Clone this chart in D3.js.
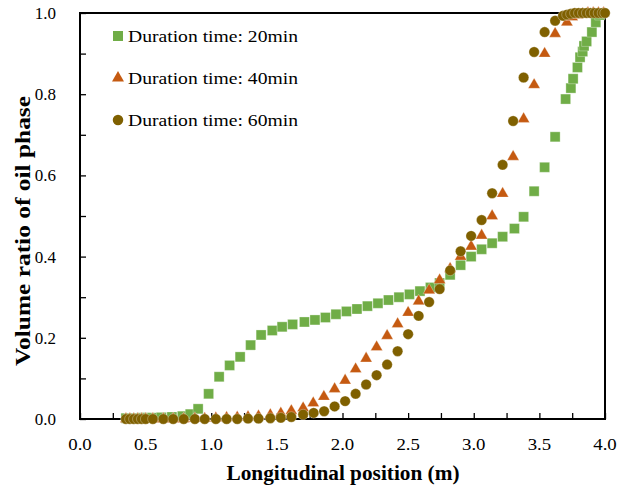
<!DOCTYPE html>
<html>
<head>
<meta charset="utf-8">
<script src="https://cdn.jsdelivr.net/npm/d3@7"></script>
<style>
  body { margin: 0; background: #fff; }
  svg text { font-family: "Liberation Serif", "Times New Roman", serif; }
</style>
</head>
<body>
<script>
// Oil phase volume ratio along the tube, three duration times

const width = 619;
const height = 485;
const margin = { top: 13, right: 14, bottom: 66, left: 80 };

// 20 min (green squares)
const x20 = [0.35, 0.38, 0.41, 0.44, 0.47, 0.50, 0.55, 0.62, 0.70, 0.78, 0.84, 0.90, 0.98, 1.06, 1.14, 1.22, 1.30, 1.38, 1.465, 1.54, 1.62, 1.71, 1.79,
  1.87, 1.95, 2.03, 2.11, 2.19, 2.27, 2.35, 2.43, 2.51, 2.59, 2.67, 2.74, 2.82, 2.90, 2.98, 3.06, 3.14, 3.22, 3.31, 3.38, 3.46, 3.54, 3.62,
  3.70, 3.74, 3.757, 3.79, 3.81, 3.83, 3.84, 3.86, 3.90, 3.93, 3.96, 3.98];
const y20 = [0.002, 0.002, 0.002, 0.002, 0.003, 0.003, 0.003, 0.004, 0.005, 0.007, 0.012, 0.025, 0.062, 0.104, 0.132, 0.153, 0.182, 0.207, 0.218, 0.227, 0.233, 0.239, 0.244,
  0.25, 0.258, 0.265, 0.271, 0.278, 0.285, 0.293, 0.30, 0.307, 0.315, 0.324, 0.335, 0.355, 0.379, 0.40, 0.418, 0.433, 0.449, 0.469, 0.498, 0.561, 0.62, 0.695,
  0.788, 0.815, 0.838, 0.866, 0.891, 0.905, 0.919, 0.93, 0.953, 0.977, 0.995, 1.0];

// 40 min (orange triangles)
const x40 = [0.35, 0.38, 0.41, 0.44, 0.47, 0.50, 0.555, 0.635, 0.71, 0.79, 0.875, 0.95, 1.035, 1.117, 1.198, 1.28, 1.36, 1.45, 1.53, 1.61,
  1.70, 1.777, 1.858, 1.94, 2.02, 2.10, 2.18, 2.26, 2.34, 2.42, 2.50, 2.58, 2.66, 2.74, 2.82, 2.90, 2.98, 3.06, 3.14, 3.22, 3.30, 3.38,
  3.46, 3.54, 3.62, 3.71, 3.75, 3.79, 3.83, 3.87, 3.91, 3.95, 3.99];
const y40 = [0, 0, 0, 0, 0, 0, 0, 0, 0, 0, 0.001, 0.001, 0.002, 0.003, 0.004, 0.005, 0.007, 0.01, 0.014, 0.02,
  0.027, 0.039, 0.055, 0.074, 0.095, 0.123, 0.149, 0.177, 0.205, 0.234, 0.262, 0.29, 0.317, 0.342, 0.37, 0.40, 0.425, 0.452, 0.50, 0.555, 0.646, 0.739,
  0.823, 0.90, 0.949, 0.977, 0.99, 0.995, 0.998, 1.0, 1.0, 1.0, 1.0];

// 60 min (brown circles)
const x60 = [0.35, 0.38, 0.41, 0.44, 0.47, 0.50, 0.555, 0.635, 0.71, 0.79, 0.875, 0.95, 1.035, 1.117, 1.198, 1.28, 1.36, 1.45, 1.53, 1.61,
  1.70, 1.78, 1.86, 1.94, 2.02, 2.10, 2.18, 2.26, 2.34, 2.42, 2.50, 2.58, 2.66, 2.74, 2.82, 2.90, 2.98, 3.06, 3.14, 3.22, 3.30,
  3.38, 3.46, 3.54, 3.62, 3.68, 3.71, 3.74, 3.77, 3.80, 3.83, 3.86, 3.89, 3.92, 3.95, 3.98, 4.0];
const y60 = [0, 0, 0, 0, 0, 0, 0, 0, 0, 0, 0, 0, 0, 0, 0, 0.001, 0.001, 0.002, 0.003, 0.005,
  0.011, 0.015, 0.019, 0.031, 0.044, 0.062, 0.085, 0.108, 0.134, 0.167, 0.209, 0.254, 0.288, 0.32, 0.366, 0.413, 0.451, 0.49, 0.556, 0.626, 0.734,
  0.841, 0.904, 0.953, 0.981, 0.993, 0.996, 0.998, 1.0, 1.0, 1.0, 1.0, 1.0, 1.0, 1.0, 1.0, 1.0];

const seriesNames = ["Duration time: 20min", "Duration time: 40min", "Duration time: 60min"];
const seriesColors = ["#70AD47", "#C55A11", "#7F6000"];
const seriesShapes = [d3.symbolSquare, d3.symbolTriangle, d3.symbolCircle];

const xTicks = [0.0, 0.5, 1.0, 1.5, 2.0, 2.5, 3.0, 3.5, 4.0];
const yTicks = [0.0, 0.2, 0.4, 0.6, 0.8, 1.0];

const series = [
  { name: seriesNames[0], pts: d3.zip(x20, y20) },
  { name: seriesNames[1], pts: d3.zip(x40, y40) },
  { name: seriesNames[2], pts: d3.zip(x60, y60) }
];

const svg = d3.select("body").append("svg")
  .attr("width", width)
  .attr("height", height);

const x = d3.scaleLinear().domain([0, 4]).range([margin.left, width - margin.right]);
const y = d3.scaleLinear().domain([0, 1]).range([height - margin.bottom, margin.top]);

// minor/major inward ticks
const xAxis = d3.axisBottom(x).tickValues(d3.range(0, 4.01, 0.25)).tickSize(-6).tickFormat("");
const yAxis = d3.axisLeft(y).tickValues(d3.range(0, 1.01, 0.1)).tickSize(-6).tickFormat("");

svg.append("g")
  .attr("transform", `translate(0,${y(0)})`)
  .call(xAxis)
  .call(g => g.select(".domain").remove())
  .call(g => g.selectAll("line").attr("stroke", "#000").attr("stroke-width", 1.3));

svg.append("g")
  .attr("transform", `translate(${x(0)},0)`)
  .call(yAxis)
  .call(g => g.select(".domain").remove())
  .call(g => g.selectAll("line").attr("stroke", "#000").attr("stroke-width", 1.3));

// frame
svg.append("rect")
  .attr("x", x(0)).attr("y", y(1))
  .attr("width", x(4) - x(0)).attr("height", y(0) - y(1))
  .attr("fill", "none").attr("stroke", "#000").attr("stroke-width", 2);

// tick labels (the original text is a bit wider than Liberation Serif)
svg.append("g").selectAll("text").data(xTicks).join("text")
  .attr("x", d => x(d)).attr("y", y(0) + 31)
  .attr("text-anchor", "middle")
  .attr("font-size", 17)
  .attr("textLength", 23.5)
  .attr("lengthAdjust", "spacingAndGlyphs")
  .text(d => d.toFixed(1));

svg.append("g").selectAll("text").data(yTicks).join("text")
  .attr("x", 56).attr("y", d => y(d) + 6)
  .attr("text-anchor", "end")
  .attr("font-size", 17)
  .text(d => d.toFixed(1));

// markers
series.forEach((s, i) => {
  const size = i === 0 ? 100 : i === 1 ? 62 : 86;
  const sym = d3.symbol().type(seriesShapes[i]).size(size);
  svg.append("g").selectAll("path").data(s.pts).join("path")
    .attr("transform", d => `translate(${x(d[0])},${y(d[1])})`)
    .attr("d", sym)
    .attr("fill", seriesColors[i])
    .attr("stroke", "#fff")
    .attr("stroke-opacity", 0.5)
    .attr("stroke-width", 0.6);
});

// legend
const legend = svg.append("g");
series.forEach((s, i) => {
  const cy = 36 + i * 42;
  const size = i === 0 ? 100 : i === 1 ? 62 : 86;
  legend.append("path")
    .attr("transform", `translate(118,${cy})`)
    .attr("d", d3.symbol().type(seriesShapes[i]).size(size))
    .attr("fill", seriesColors[i]);
  legend.append("text")
    .attr("x", 128).attr("y", cy + 6)
    .attr("font-size", 16.5)
    .attr("textLength", 170)
    .attr("lengthAdjust", "spacingAndGlyphs")
    .text(s.name);
});

// axis titles
svg.append("text")
  .attr("x", 343).attr("y", 480)
  .attr("text-anchor", "middle")
  .attr("font-size", 20).attr("font-weight", "bold")
  .attr("textLength", 233)
  .attr("lengthAdjust", "spacingAndGlyphs")
  .text("Longitudinal position (m)");

svg.append("text")
  .attr("transform", "translate(30,231) rotate(-90)")
  .attr("text-anchor", "middle")
  .attr("font-size", 20).attr("font-weight", "bold")
  .attr("textLength", 270)
  .attr("lengthAdjust", "spacingAndGlyphs")
  .text("Volume ratio of oil phase");
</script>
</body>
</html>
